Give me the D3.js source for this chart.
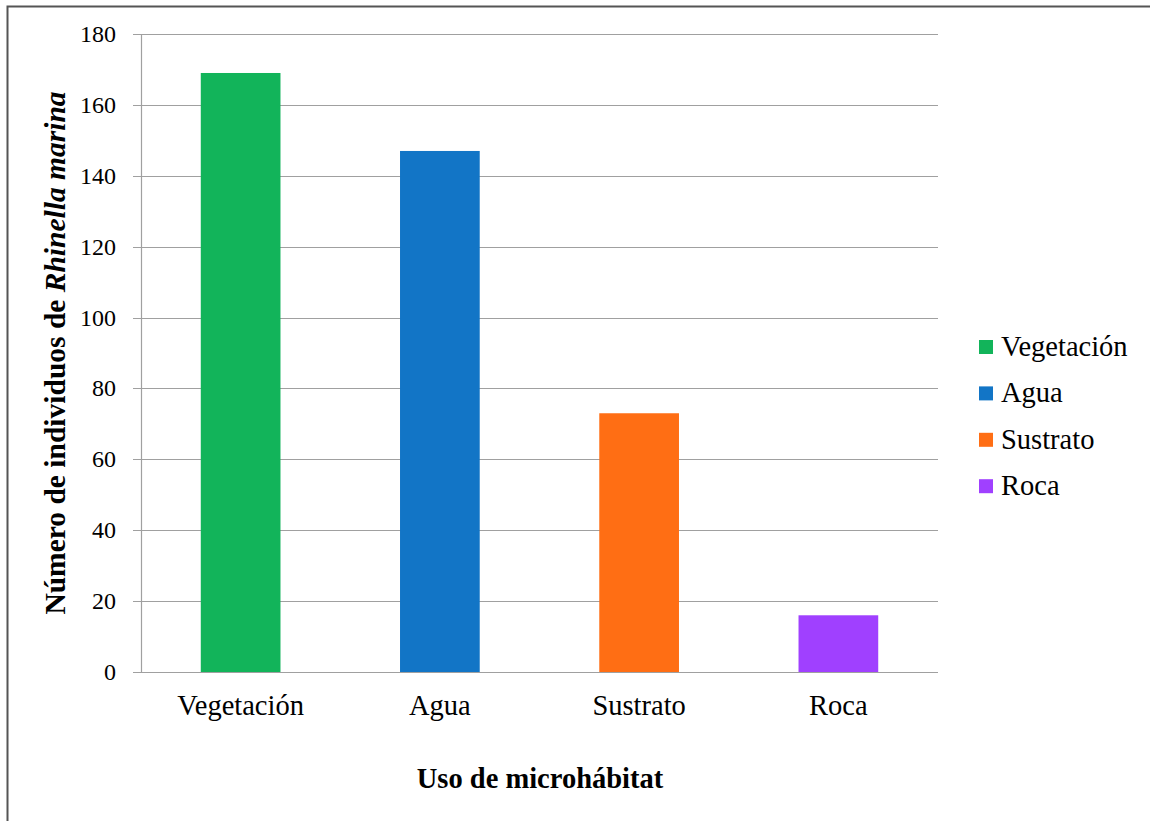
<!DOCTYPE html>
<html>
<head>
<meta charset="utf-8">
<script src="https://cdn.jsdelivr.net/npm/d3@7"></script>
<style>
  html, body { margin: 0; padding: 0; background: #fff; }
  svg { display: block; font-family: "Liberation Serif", "Times New Roman", serif; }
</style>
</head>
<body>
<svg id="chart" width="1150" height="821"></svg>
<script>
// Microhabitat use by Rhinella marina
const categories = ["Vegetación", "Agua", "Sustrato", "Roca"];
const counts = [169, 147, 73, 16];
const colors = ["#12b45a", "#1275c6", "#ff6e14", "#a040ff"];
const yTicks = [0, 20, 40, 60, 80, 100, 120, 140, 160, 180];

const svg = d3.select("#chart");
const W = 1150, H = 821;

// outer frame
svg.append("rect").attr("x", 7.5).attr("y", 6.5).attr("width", W).attr("height", H)
  .attr("fill", "#fff").attr("stroke", "#555").attr("stroke-width", 2);

const plot = { left: 141, right: 938, top: 34, bottom: 672 };

const x = d3.scaleBand().domain(categories).range([plot.left, plot.right])
  .paddingInner(0.6).paddingOuter(0.3);
const y = d3.scaleLinear().domain([0, 180]).range([plot.bottom, plot.top]);

// gridlines
svg.append("g").selectAll("line").data(yTicks).join("line")
  .attr("x1", plot.left - 8).attr("x2", plot.right)
  .attr("y1", d => Math.round(y(d)) + 0.5).attr("y2", d => Math.round(y(d)) + 0.5)
  .attr("stroke", "#a0a0a0").attr("stroke-width", 1.2);

// y axis line
svg.append("line").attr("x1", plot.left + 0.5).attr("x2", plot.left + 0.5)
  .attr("y1", plot.top).attr("y2", plot.bottom + 0.5)
  .attr("stroke", "#a0a0a0").attr("stroke-width", 1.2);

// y tick labels
svg.append("g").selectAll("text").data(yTicks).join("text")
  .attr("x", plot.left - 25).attr("y", d => y(d) + 8)
  .attr("text-anchor", "end")
  .attr("font-size", 24).attr("fill", "#000")
  .text(d => d);

// bars
svg.append("g").selectAll("rect").data(categories).join("rect")
  .attr("x", d => x(d)).attr("width", x.bandwidth())
  .attr("y", (d, i) => y(counts[i])).attr("height", (d, i) => y(0) - y(counts[i]))
  .attr("fill", (d, i) => colors[i]);

// x tick labels
svg.append("g").selectAll("text").data(categories).join("text")
  .attr("x", d => x(d) + x.bandwidth() / 2).attr("y", 715)
  .attr("text-anchor", "middle").attr("font-size", 28.5).attr("fill", "#000")
  .text(d => d);

// x axis title
svg.append("text").attr("x", 540).attr("y", 788).attr("text-anchor", "middle")
  .attr("font-size", 28.5).attr("font-weight", "bold").text("Uso de microhábitat");

// y axis title
const yt = svg.append("text")
  .attr("transform", "translate(65," + 353 + ") rotate(-90)")
  .attr("text-anchor", "middle").attr("font-size", 29.5).attr("font-weight", "bold");
yt.append("tspan").text("Número de individuos de ");
yt.append("tspan").attr("font-style", "italic").text("Rhinella marina");

// legend
const leg = svg.append("g").selectAll("g").data(categories).join("g")
  .attr("transform", (d, i) => "translate(979," + (347 + i * 46.4) + ")");
leg.append("rect").attr("x", 0).attr("y", -7).attr("width", 14).attr("height", 14)
  .attr("fill", (d, i) => colors[i]);
leg.append("text").attr("x", 22).attr("y", 9)
  .attr("font-size", 28.5).text(d => d);
</script>
</body>
</html>
